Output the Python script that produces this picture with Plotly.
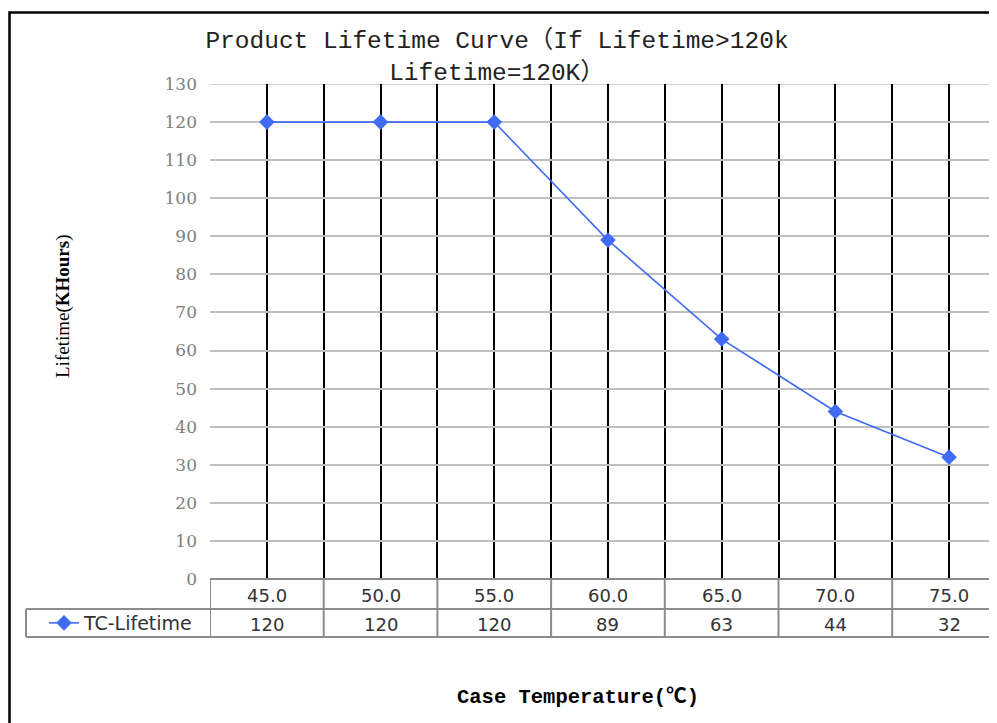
import plotly.graph_objects as go

# ---- data ----
temps = ["45.0", "50.0", "55.0", "60.0", "65.0", "70.0", "75.0"]
lifetime = [120, 120, 120, 89, 63, 44, 32]
series_name = "TC-Lifetime"
y_ticks = list(range(0, 131, 10))

OFF = 8  # page body margin
W, H = 997, 723
L, T = 210 - OFF, 84 - OFF
plot_bottom = 579 - OFF
R = 0
B = H - plot_bottom
plot_w = W - L - R
plot_h = plot_bottom - T
band_px = 113.7
x_max = -0.5 + plot_w / band_px

grid_gray = "#BFBFBF"
table_gray = "#8C8C8C"
blue = "#3F6BF5"

xs = list(range(len(temps)))

fig = go.Figure()
fig.add_trace(go.Scatter(
    x=xs, y=lifetime, mode="lines+markers", name=series_name,
    line=dict(color=blue, width=1.6),
    marker=dict(symbol="diamond", size=12, color=blue),
    cliponaxis=False,
))


def py(px):
    """screen pixel row -> paper y"""
    return (plot_bottom - (px - OFF)) / plot_h


def pxp(px):
    """screen pixel col -> paper x"""
    return ((px - OFF) - L) / plot_w


shapes = []
shapes.append(dict(type="line", xref="paper", yref="y", x0=0, x1=1, y0=130, y1=130,
                   line=dict(color=grid_gray, width=1.5), layer="below"))
row1_top, row1_bot, row2_bot = 579, 609, 637
legend_left = 26
shapes.append(dict(type="line", xref="paper", yref="paper", x0=0, x1=1.05,
                   y0=py(row1_top), y1=py(row1_top), line=dict(color=table_gray, width=2)))
for r in (row1_bot, row2_bot):
    shapes.append(dict(type="line", xref="paper", yref="paper", x0=pxp(legend_left), x1=1.05,
                       y0=py(r), y1=py(r), line=dict(color=table_gray, width=2)))
for i in range(len(temps)):
    shapes.append(dict(type="line", xref="x", yref="paper", x0=i - 0.5, x1=i - 0.5,
                       y0=py(row1_top), y1=py(row2_bot), line=dict(color=table_gray, width=2)))
shapes.append(dict(type="line", xref="paper", yref="paper", x0=pxp(legend_left), x1=pxp(legend_left),
                   y0=py(row1_bot), y1=py(row2_bot), line=dict(color=table_gray, width=2)))
# outer frame
shapes.append(dict(type="rect", xref="paper", yref="paper", x0=pxp(9.5), x1=1.2,
                   y0=py(12.5), y1=-0.6, line=dict(color="black", width=2.5)))

annotations = []
tfont = dict(family="DejaVu Sans", size=18, color="#333333")
for i, (t, v) in enumerate(zip(temps, lifetime)):
    annotations.append(dict(x=i, y=py((row1_top + row1_bot) / 2 + 1), xref="x", yref="paper",
                            xanchor="center", yanchor="middle", text=t, showarrow=False, font=tfont))
    annotations.append(dict(x=i, y=py((row1_bot + row2_bot) / 2 + 1), xref="x", yref="paper",
                            xanchor="center", yanchor="middle", text=str(v), showarrow=False, font=tfont))
annotations.append(dict(x=pxp(63), y=py(306), xref="paper", yref="paper", textangle=-90,
                        xanchor="center", yanchor="middle",
                        text="Lifetime(<b>KHours</b>)", showarrow=False,
                        font=dict(family="Liberation Serif", size=19, color="black")))
annotations.append(dict(x=pxp(578), y=py(697), xref="paper", yref="paper",
                        xanchor="center", yanchor="middle",
                        text="<b>Case Temperature(℃)</b>", showarrow=False,
                        font=dict(family="Liberation Mono, Noto Sans CJK SC", size=20.5, color="black")))

fig.update_layout(
    width=W, height=H,
    margin=dict(l=L, r=R, t=T, b=B),
    paper_bgcolor="white", plot_bgcolor="white",
    title=dict(text="Product Lifetime Curve（If Lifetime>120k<br>Lifetime=120K）",
               x=(497 - OFF) / W, xanchor="center", xref="container",
               y=1 - 40 / H, yanchor="top", yref="container",
               font=dict(family="Liberation Mono, Noto Sans CJK SC", size=24.5, color="#222222")),
    xaxis=dict(range=[-0.5, x_max], tickmode="linear", tick0=-0.5, dtick=0.5,
               showgrid=True, gridcolor="black", gridwidth=2.4,
               showticklabels=False, zeroline=False, showline=False, fixedrange=True),
    yaxis=dict(range=[0, 130], tickvals=y_ticks, showgrid=True, gridcolor=grid_gray, gridwidth=1.5,
               zeroline=False, showline=False, ticks="", ticklabelstandoff=12,
               tickfont=dict(family="DejaVu Serif", size=17, color="#7F7F7F"), fixedrange=True),
    showlegend=True,
    legend=dict(x=pxp(44), y=py((row1_bot + row2_bot) / 2), xanchor="left", yanchor="middle",
                bgcolor="rgba(0,0,0,0)", borderwidth=0,
                font=dict(family="DejaVu Sans", size=19, color="#333333"),
                itemwidth=30),
    shapes=shapes,
    annotations=annotations,
)

fig.write_html("out.html")
